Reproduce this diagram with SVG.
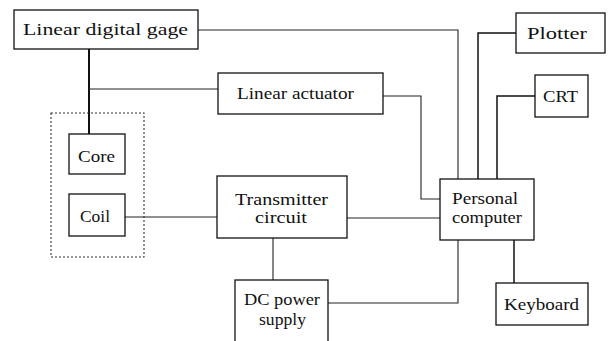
<svg xmlns="http://www.w3.org/2000/svg" width="615" height="341" viewBox="0 0 615 341">
<style>
.box{fill:#fff;stroke:#111;stroke-width:1.3}
.t{font-family:"Liberation Serif","DejaVu Serif",serif;font-size:17px;fill:#111}
.c{fill:none;stroke:#222;stroke-width:1.1}
.thick{fill:none;stroke:#111;stroke-width:2}
.dot{fill:none;stroke:#333;stroke-width:1.1;stroke-dasharray:2 2}
</style>
<rect width="615" height="341" fill="#fff"/>
<g id="connectors">
<polyline class="c" points="198,30 458,30 458,179"/>
<line class="thick" x1="89" y1="49" x2="89" y2="134"/>
<line class="c" x1="89" y1="89" x2="218" y2="89"/>
<polyline class="c" points="383,96 421,96 421,199 440,199"/>
<polyline class="thick" points="516,33 478,33 478,179" style="stroke-width:1.5"/>
<polyline class="thick" points="535,96 497,96 497,179" style="stroke-width:1.5"/>
<line class="c" x1="125" y1="217" x2="217" y2="217"/>
<line class="c" x1="347" y1="218" x2="440" y2="218"/>
<line class="c" x1="273" y1="238" x2="273" y2="280"/>
<polyline class="c" points="458,240 458,303 328,303"/>
<line class="thick" x1="514" y1="240" x2="514" y2="283" style="stroke-width:1.5"/>
</g>
<g id="sensor">
<rect class="dot" x="51" y="113" width="93" height="144"/>
</g>
<g id="gage">
<rect class="box" x="14" y="10" width="184" height="39"/>
<text class="t" x="23" y="35" textLength="165" lengthAdjust="spacingAndGlyphs">Linear digital gage</text>
</g>
<g id="actuator">
<rect class="box" x="218" y="73" width="165" height="41"/>
<text class="t" x="237" y="99" textLength="117" lengthAdjust="spacingAndGlyphs">Linear actuator</text>
</g>
<g id="plotter">
<rect class="box" x="516" y="13" width="89" height="40"/>
<text class="t" x="527" y="39" textLength="60" lengthAdjust="spacingAndGlyphs">Plotter</text>
</g>
<g id="crt">
<rect class="box" x="535" y="75" width="53" height="42"/>
<text class="t" x="543" y="102" textLength="35" lengthAdjust="spacingAndGlyphs">CRT</text>
</g>
<g id="core">
<rect class="box" x="69" y="134" width="56" height="40"/>
<text class="t" x="78" y="162" textLength="37" lengthAdjust="spacingAndGlyphs">Core</text>
</g>
<g id="coil">
<rect class="box" x="69" y="194" width="56" height="42"/>
<text class="t" x="80" y="222" textLength="30" lengthAdjust="spacingAndGlyphs">Coil</text>
</g>
<g id="transmitter">
<rect class="box" x="217" y="176" width="130" height="62"/>
<text class="t" x="235" y="205" textLength="93" lengthAdjust="spacingAndGlyphs">Transmitter</text>
<text class="t" x="255" y="223" textLength="52" lengthAdjust="spacingAndGlyphs">circuit</text>
</g>
<g id="dcpower">
<rect class="box" x="235" y="280" width="93" height="62"/>
<text class="t" x="244" y="305" textLength="76" lengthAdjust="spacingAndGlyphs">DC power</text>
<text class="t" x="259" y="325" textLength="47" lengthAdjust="spacingAndGlyphs">supply</text>
</g>
<g id="pc">
<rect class="box" x="440" y="179" width="94" height="61"/>
<text class="t" x="452" y="204" textLength="66" lengthAdjust="spacingAndGlyphs">Personal</text>
<text class="t" x="452" y="223" textLength="70" lengthAdjust="spacingAndGlyphs">computer</text>
</g>
<g id="keyboard">
<rect class="box" x="496" y="283" width="92" height="42"/>
<text class="t" x="504" y="310" textLength="75" lengthAdjust="spacingAndGlyphs">Keyboard</text>
</g>
</svg>
